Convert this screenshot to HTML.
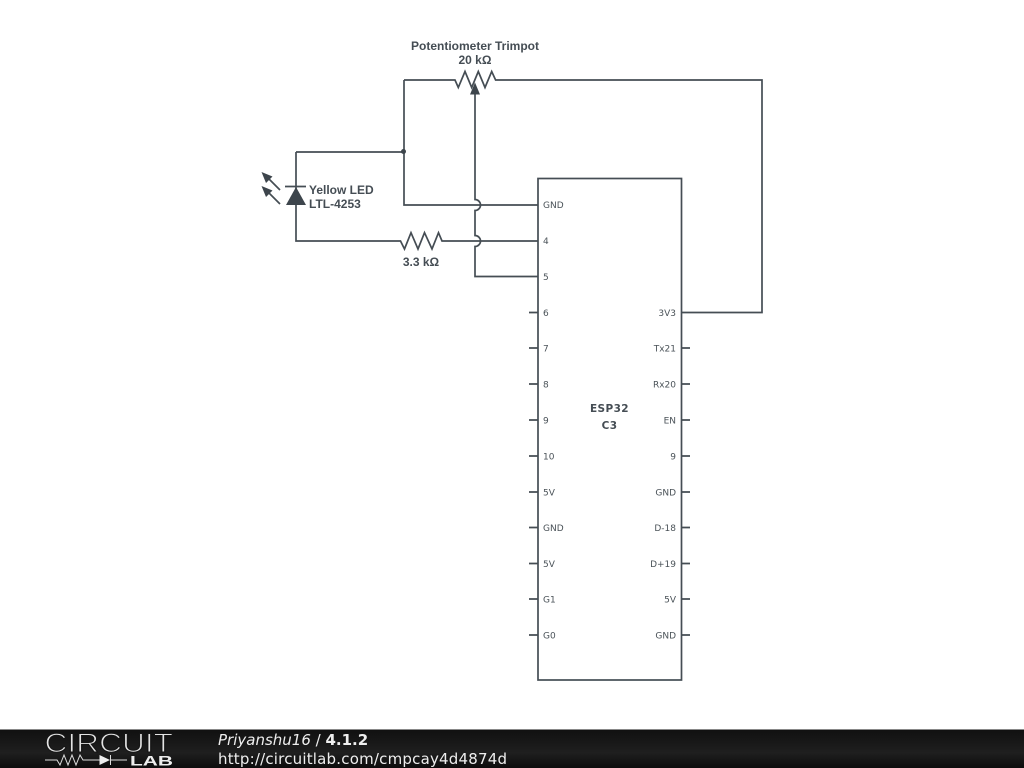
<!DOCTYPE html>
<html><head><meta charset="utf-8"><style>
html,body{margin:0;padding:0;background:#fff;width:1024px;height:768px;overflow:hidden}
svg{display:block;filter:blur(.3px)}
.w{fill:none;stroke:#454d54;stroke-width:1.7;stroke-linejoin:miter}
.p{font:9px "DejaVu Sans",sans-serif;fill:#4a5258}
.l{font:bold 12px "Liberation Sans",sans-serif;fill:#454d54;text-anchor:middle}
</style></head><body>
<svg width="1024" height="768" viewBox="0 0 1024 768" xmlns="http://www.w3.org/2000/svg">
<defs><linearGradient id="g" x1="0" y1="0" x2="0" y2="1"><stop offset="0" stop-color="#101010"/><stop offset=".6" stop-color="#1f1f1f"/><stop offset="1" stop-color="#0c0c0c"/></linearGradient></defs>
<rect width="1024" height="768" fill="#fff"/>
<rect x="538" y="178.500" width="143.500" height="501.500" class="w"/>
<path class="w" d="M296 152H404M404 80V205H538M296 152V241H400.500L404.500 249L411 232.700L418 249L424.500 232.700L432 249L438.500 232.700L442 241H538"/>
<path class="w" d="M404 80H455L458.300 87.500L465 71.500L471.700 87.500L478.300 71.500L485 87.500L491.700 71.500L495.600 80H762V312.500H681.500"/>
<path class="w" d="M475 92V199.500A5.500 5.500 0 0 1 475 210.500V235.500A5.500 5.500 0 0 1 475 246.500V276.500H538"/>
<path d="M475 82.500L470 94.500H480Z" fill="#3d454c"/>
<circle cx="403.500" cy="151.500" r="2.500" fill="#3d454c"/>
<path class="w" d="M285 186.500H306"/>
<path d="M296 187L286 205H306Z" fill="#3d454c"/>
<path class="w" d="M280 190L265 175M280 204L265 189"/>
<path d="M261.500 172L272.500 176.500L266 183ZM261.500 186L272.500 190.500L266 197Z" fill="#3d454c"/>
<path class="w" d="M529 312.500H538M529 348H538M529 384H538M529 420H538M529 456H538M529 492H538M529 527.500H538M529 563.500H538M529 599H538M529 635H538M681 348H690M681 384H690M681 420H690M681 456H690M681 492H690M681 527.500H690M681 563.500H690M681 599H690M681 635H690"/>
<g class="p">
<text x="543" y="208">GND</text><text x="543" y="244">4</text><text x="543" y="280">5</text><text x="543" y="316">6</text><text x="543" y="351.500">7</text><text x="543" y="387.500">8</text><text x="543" y="423.500">9</text><text x="543" y="459.500">10</text><text x="543" y="495.500">5V</text><text x="543" y="531">GND</text><text x="543" y="567">5V</text><text x="543" y="602.500">G1</text><text x="543" y="638.500">G0</text>
<g text-anchor="end"><text x="676" y="316">3V3</text><text x="676" y="351.500">Tx21</text><text x="676" y="387.500">Rx20</text><text x="676" y="423.500">EN</text><text x="676" y="459.500">9</text><text x="676" y="495.500">GND</text><text x="676" y="531">D-18</text><text x="676" y="567">D+19</text><text x="676" y="602.500">5V</text><text x="676" y="638.500">GND</text></g>
</g>
<text x="609.500" y="412" text-anchor="middle" style="font:bold 10.500px 'DejaVu Sans',sans-serif;letter-spacing:.4px;fill:#454d54">ESP32</text>
<text x="609.500" y="429" text-anchor="middle" style="font:bold 10.500px 'DejaVu Sans',sans-serif;letter-spacing:.4px;fill:#454d54">C3</text>
<text class="l" x="475" y="50">Potentiometer Trimpot</text>
<text class="l" x="475" y="64">20 kΩ</text>
<text class="l" x="421" y="266">3.3 kΩ</text>
<text class="l" x="309" y="194" style="text-anchor:start">Yellow LED</text>
<text class="l" x="309" y="208" style="text-anchor:start">LTL-4253</text>
<rect y="729" width="1024" height="39" fill="url(#g)"/>
<rect y="729" width="1024" height="1" fill="#888"/>
<text x="44.500" y="752" textLength="128.500" lengthAdjust="spacingAndGlyphs" style="font:27px 'Liberation Sans',sans-serif;fill:#e4e4e4;stroke:#161616;stroke-width:1.1">CIRCUIT</text>
<path d="M45 760H57L60 765L64 755L68 765L72 755L76 765L80 755L83 760H100M110 760H127M110.500 755V765" fill="none" stroke="#ddd" stroke-width="1"/>
<path d="M99.500 755L110 760L99.500 765Z" fill="#eee"/>
<text x="130" y="765.500" textLength="43" lengthAdjust="spacingAndGlyphs" style="font:bold 14px 'Liberation Sans',sans-serif;fill:#eee">LAB</text>
<text x="218" y="745" style="font:15px 'DejaVu Sans',sans-serif;fill:#eee"><tspan font-style="italic">Priyanshu16</tspan> / <tspan font-weight="bold">4.1.2</tspan></text>
<text x="218" y="764" textLength="289" style="font:15px 'DejaVu Sans',sans-serif;fill:#eee">http://circuitlab.com/cmpcay4d4874d</text>
</svg>
</body></html>
